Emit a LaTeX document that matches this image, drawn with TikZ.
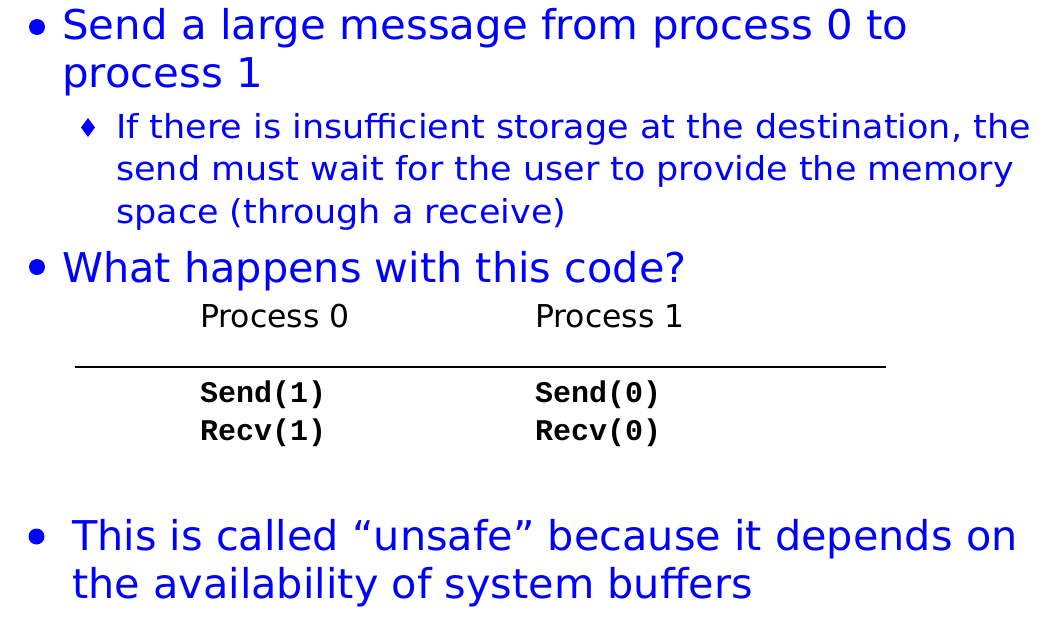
\documentclass[tikz,border=0pt]{standalone}
\usepackage{fontspec}
\setmainfont{DejaVu Sans}
\newfontfamily\onefont[FakeStretch=1.022]{DejaVu Sans}
\newfontfamily\lastfont[FakeStretch=1.01]{DejaVu Sans}
\newfontfamily\twofont[FakeStretch=1.06]{DejaVu Sans}
\newfontfamily\codefont{Liberation Mono}
\definecolor{slideblue}{RGB}{0,0,255}
\tikzset{
  lvlone/.style={anchor=base west, inner sep=0pt, text=slideblue, font=\onefont\fontsize{41}{41}\selectfont},
  lvllast/.style={anchor=base west, inner sep=0pt, text=slideblue, font=\lastfont\fontsize{41}{41}\selectfont},
  lvltwo/.style={anchor=base west, inner sep=0pt, text=slideblue, font=\twofont\fontsize{33}{33}\selectfont},
  header/.style={anchor=base west, inner sep=0pt, text=black, font=\fontsize{31.5}{31.5}\selectfont},
  code/.style={anchor=base west, inner sep=0pt, text=black, font=\codefont\bfseries\fontsize{30}{30}\selectfont},
  dot/.style={circle, fill=slideblue, inner sep=0pt, minimum size=16pt},
  diam/.style={fill=slideblue}
}
\begin{document}
\begin{tikzpicture}[x=1pt,y=-1pt]
\fill[white] (0,0) rectangle (1046,616);
\useasboundingbox (0,0) rectangle (1046,616);
\node[dot] (b1) at (37,27) {};
\node[lvlone] (t1a) at (62,39.5) {Send a large message from process 0 to};
\node[lvlone] (t1b) at (62,87) {process 1};
\fill[diam] (88,118) -- (95,127.5) -- (88,137) -- (81,127.5) -- cycle;
\node[lvltwo] (t2a) at (116,138) {If there is insufficient storage at the destination, the};
\node[lvltwo] (t2b) at (116,180.5) {send must wait for the user to provide the memory};
\node[lvltwo] (t2c) at (116,223) {space (through a receive)};
\node[dot] (b2) at (37,267) {};
\node[lvllast] (t3) at (62,282) {What happens with this code?};
\node[header] (p0) at (200,327) {Process 0};
\node[header] (p1) at (535,327) {Process 1};
\coordinate (ls) at (75,367);
\coordinate (le) at (886,367);
\draw[line width=1.3pt] (ls) -- (le);
\node[code] (s1) at (200,402) {Send(1)};
\node[code] (r1) at (200,440) {Recv(1)};
\node[code] (s0) at (535,402) {Send(0)};
\node[code] (r0) at (535,440) {Recv(0)};
\node[dot] (b3) at (36.5,536.5) {};
\node[lvllast] (t4a) at (72,550.7) {This is called “unsafe” because it depends on};
\node[lvllast] (t4b) at (72,598) {the availability of system buffers};
\end{tikzpicture}
\end{document}
